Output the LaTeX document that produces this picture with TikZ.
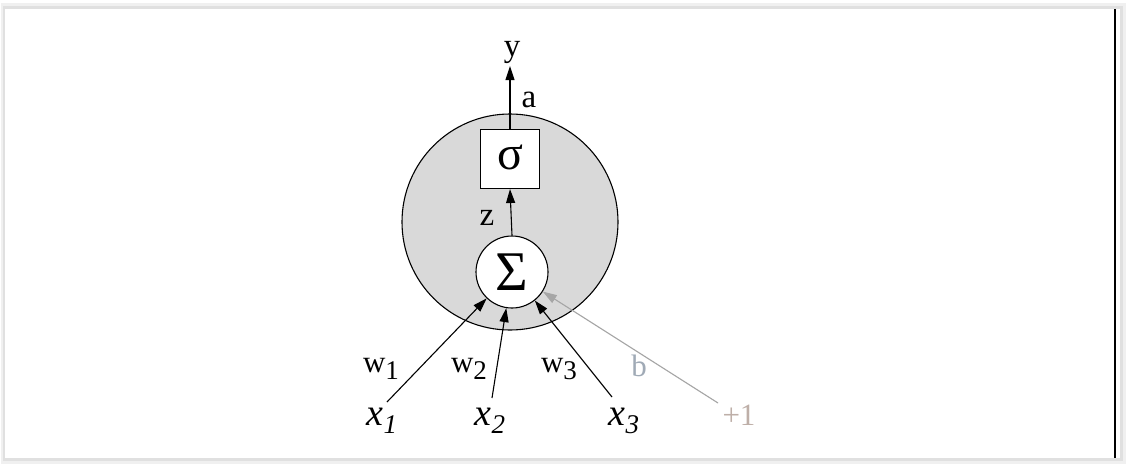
\documentclass[tikz,border=0pt]{standalone}
\usepackage{fontspec}
\setmainfont{Liberation Serif}
\usetikzlibrary{arrows.meta}
\tikzset{
  lab/.style={anchor=base, inner sep=0pt},
  tip/.style={-{Triangle[length=14pt,width=9pt]}},
  arr/.style={tip, line width=1.1pt},
  garr/.style={tip, line width=1.1pt, draw=black!35, fill=black!35},
}
\definecolor{bcol}{RGB}{160,170,182}
\definecolor{pcol}{RGB}{190,175,168}
\newcommand{\xsub}[1]{{\fontsize{38}{38}\selectfont\itshape x}\raisebox{-8pt}{\fontsize{27}{27}\selectfont\itshape #1}}
\newcommand{\wsub}[1]{{\fontsize{31}{31}\selectfont w}\raisebox{-7pt}{\fontsize{27}{27}\selectfont #1}}
\begin{document}
\begin{tikzpicture}[x=1pt,y=-1pt]
\useasboundingbox (0,0) rectangle (1128,466);
% frame
\fill[black!6] (1,3) rectangle (1126,464);
\fill[black!12] (3,6) rectangle (1123,461);
\fill[white] (5,9) rectangle (1120,458);
\draw[line width=1.3pt] (1115,9) -- (1115,458);
% neuron body
\node[circle, draw, line width=1.1pt, fill=black!15, minimum size=216pt, inner sep=0pt] (body) at (510,222) {};
\node[circle, draw, line width=1.1pt, fill=white, minimum size=72pt, inner sep=0pt] (sum) at (512,272) {\fontsize{56}{56}\selectfont\raisebox{-3pt}{Σ}};
\node[draw, line width=1.1pt, fill=white, minimum size=59pt, inner sep=0pt] (act) at (510,159) {\fontsize{48}{48}\selectfont\raisebox{4pt}{σ}};
% labels
\node[lab, font=\fontsize{33}{33}\selectfont] (y) at (512,56) {y};
\node[lab, font=\fontsize{33}{33}\selectfont] at (529,107) {a};
\node[lab, font=\fontsize{33}{33}\selectfont] at (487,225) {z};
\node[lab] (x1) at (382,425) {\xsub{1}};
\node[lab] (x2) at (490,425) {\xsub{2}};
\node[lab] (x3) at (624,425) {\xsub{3}};
\node[lab, text=pcol, font=\fontsize{31}{31}\selectfont] (p1) at (739,425) {+1};
\node[lab] at (381,372) {\wsub{1}};
\node[lab] at (469,372) {\wsub{2}};
\node[lab] at (559,372) {\wsub{3}};
\node[lab, text=bcol, font=\fontsize{31}{31}\selectfont] at (639,376) {b};
% connector start points
\coordinate (s1) at (387,402);
\coordinate (s2) at (492,398);
\coordinate (s3) at (612,397);
\coordinate (s4) at (718,403);
\coordinate (ytip) at (510,66);
% connectors
\draw[arr] (act.north) -- (ytip);
\draw[arr] (sum.north) -- (act.south);
\draw[arr] (s1) -- (sum);
\draw[arr] (s2) -- (sum);
\draw[arr] (s3) -- (sum);
\draw[garr] (s4) -- (sum);
\end{tikzpicture}
\end{document}
